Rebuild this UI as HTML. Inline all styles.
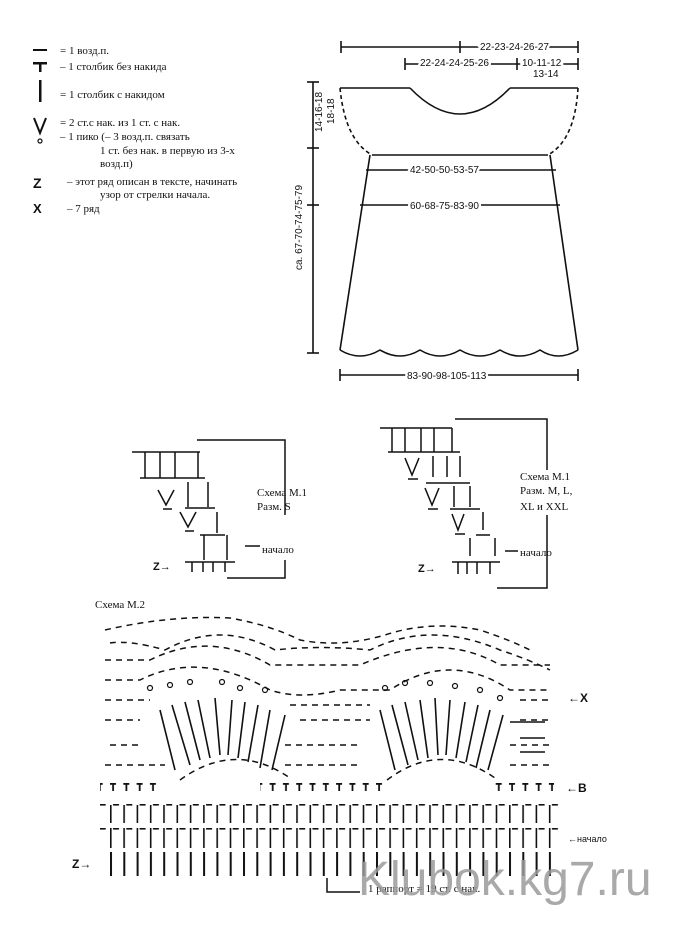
<!DOCTYPE html>
<html><head><meta charset="utf-8"><style>
html,body{margin:0;padding:0;background:#fff;}
svg{display:block;font-family:"Liberation Sans",sans-serif;}
.t{font-family:"Liberation Serif",serif;font-size:11px;fill:#111;}
.s{font-size:10px;fill:#111;font-family:"Liberation Sans",sans-serif;}
.w{paint-order:stroke;stroke:#fff;stroke-width:5px;}
</style></head><body>
<svg width="680" height="934" viewBox="0 0 680 934" xmlns="http://www.w3.org/2000/svg">
<defs>
<pattern id="bars" x="110" y="0" width="13.3" height="934" patternUnits="userSpaceOnUse">
<rect x="0" y="852" width="2" height="24" fill="#111"/>
</pattern>
<pattern id="bars2" x="110" y="0" width="13.3" height="934" patternUnits="userSpaceOnUse">
<rect x="0" y="828" width="1.6" height="20" fill="#111"/>
<rect x="3" y="828" width="6" height="1.6" fill="#111"/>
<rect x="0" y="805" width="1.6" height="18" fill="#111"/>
<rect x="3" y="804" width="6" height="1.6" fill="#111"/>
</pattern>
<pattern id="ts" x="110" y="0" width="13.3" height="934" patternUnits="userSpaceOnUse">
<rect x="0" y="783" width="6" height="1.8" fill="#111"/>
<rect x="2.2" y="783" width="1.8" height="8" fill="#111"/>
</pattern>
</defs>

<!-- Legend -->
<g fill="#111">
<rect x="33" y="49" width="14" height="2"/>
<rect x="33" y="62" width="14" height="2.5"/><rect x="39" y="62" width="2.5" height="10"/>
<rect x="39" y="80" width="2.5" height="22"/>
<circle cx="40" cy="141" r="2" fill="none" stroke="#111" stroke-width="1.2"/>
</g>
<path d="M34 118 L40 133 L46 118" stroke="#111" stroke-width="2" fill="none"/>
<text x="33" y="188" style="font:bold 14px 'Liberation Sans'" fill="#111">Z</text>
<text x="33" y="213" style="font:bold 13px 'Liberation Sans'" fill="#111">X</text>
<text class="t" x="60" y="54">= 1 возд.п.</text>
<text class="t" x="60" y="70">– 1 столбик без накида</text>
<text class="t" x="60" y="98">= 1 столбик с накидом</text>
<text class="t" x="60" y="126">= 2 ст.с нак. из 1 ст. с нак.</text>
<text class="t" x="60" y="140">– 1 пико (– 3 возд.п. связать</text>
<text class="t" x="100" y="154">1 ст. без нак. в первую из 3-х</text>
<text class="t" x="100" y="167">возд.п)</text>
<text class="t" x="67" y="185">– этот ряд описан в тексте, начинать</text>
<text class="t" x="100" y="198">узор от стрелки начала.</text>
<text class="t" x="67" y="212">– 7 ряд</text>

<!-- Dress schematic -->
<g stroke="#111" stroke-width="1.6" fill="none">
<line x1="341" y1="47" x2="578" y2="47"/>
<line x1="341" y1="41" x2="341" y2="53"/><line x1="460" y1="41" x2="460" y2="53"/><line x1="578" y1="41" x2="578" y2="53"/>
<line x1="405" y1="64" x2="578" y2="64"/>
<line x1="405" y1="58" x2="405" y2="70"/><line x1="517" y1="58" x2="517" y2="70"/><line x1="578" y1="58" x2="578" y2="70"/>
<line x1="313" y1="82" x2="313" y2="353"/>
<line x1="307" y1="82" x2="319" y2="82"/><line x1="307" y1="148" x2="319" y2="148"/><line x1="307" y1="205" x2="319" y2="205"/><line x1="307" y1="353" x2="319" y2="353"/>
<line x1="340" y1="375" x2="578" y2="375"/>
<line x1="340" y1="369" x2="340" y2="381"/><line x1="578" y1="369" x2="578" y2="381"/>
<path d="M340 88 H410 M510 88 H578"/>
<path d="M410 88 Q460 140 510 88" />
<path d="M340 88 Q345 140 372 155 M578 88 Q575 140 548 155" stroke-dasharray="4 3"/>
<path d="M372 155 H548"/>
<line x1="366" y1="170" x2="556" y2="170"/>
<line x1="360" y1="205" x2="560" y2="205"/>
<path d="M370 155 L340 350 M550 155 L578 350"/>
<path d="M340 350 q20 12 40 0 q20 12 40 0 q20 12 40 0 q20 12 40 0 q20 12 40 0 q18 12 38 0"/>
</g>
<text class="s w" x="480" y="50">22-23-24-26-27</text>
<text class="s w" x="420" y="66">22-24-24-25-26</text>
<text class="s w" x="522" y="66">10-11-12</text>
<text class="s" x="533" y="77">13-14</text>
<text class="s w" x="410" y="173">42-50-50-53-57</text>
<text class="s w" x="410" y="209">60-68-75-83-90</text>
<text class="s w" x="407" y="379">83-90-98-105-113</text>
<text class="s w" transform="translate(302,270) rotate(-90)">ca. 67-70-74-75-79</text>
<text class="s" transform="translate(322,132) rotate(-90)">14-16-18</text>
<text class="s" transform="translate(334,124) rotate(-90)">18-18</text>

<!-- M.1 left -->
<g stroke="#111" stroke-width="1.5" fill="none">
<path d="M197 440 H285 V515 M285 560 V578 H227 M285 590"/>
<path d="M132 452 H200 M145 452 V478 M160 452 V478 M175 452 V478 M198 452 V478 M140 478 H205"/>
<path d="M158 490 L166 505 L174 490 M163 509 H172 M188 482 V507 M208 482 V507 M185 508 H215"/>
<path d="M180 512 L188 527 L196 512 M185 531 H194 M217 512 V533 M200 535 H225"/>
<path d="M204 535 V560 M227 535 V560 M185 562 H235"/>
<path d="M192 562 V572 M203 562 V572 M213 562 V572 M225 562 V572"/>
<path d="M245 546 H260"/>
</g>
<text class="t" x="257" y="496">Схема М.1</text>
<text class="t" x="257" y="510">Разм. S</text>
<text class="t" x="262" y="553">начало</text>
<text x="153" y="570" style="font:bold 11px 'Liberation Sans'" fill="#111">Z→</text>

<!-- M.1 right -->
<g stroke="#111" stroke-width="1.5" fill="none">
<path d="M455 419 H547 V470 M547 515 V588 H497"/>
<path d="M380 428 H452 M392 428 V452 M405 428 V452 M421 428 V452 M434 428 V452 M452 428 V452 M388 452 H460"/>
<path d="M405 458 L412 475 L419 458 M408 479 H418 M433 456 V477 M447 456 V477 M460 456 V477 M426 483 H470"/>
<path d="M425 488 L432 505 L439 488 M428 509 H438 M454 486 V507 M470 486 V507 M450 509 H480"/>
<path d="M452 514 L458 530 L464 514 M455 534 H465 M483 512 V530 M476 535 H490"/>
<path d="M470 538 V556 M495 538 V556 M452 562 H500 M458 562 V574 M467 562 V574 M477 562 V574 M490 562 V574"/>
<path d="M505 551 H518"/>
</g>
<text class="t" x="520" y="480">Схема М.1</text>
<text class="t" x="520" y="494">Разм. M, L,</text>
<text class="t" x="520" y="510">XL и XXL</text>
<text class="t" x="520" y="556">начало</text>
<text x="418" y="572" style="font:bold 11px 'Liberation Sans'" fill="#111">Z→</text>

<!-- M.2 -->
<text class="t" x="95" y="608">Схема М.2</text>
<rect x="100" y="0" width="460" height="934" fill="url(#bars)"/>
<rect x="100" y="0" width="460" height="934" fill="url(#bars2)"/>
<rect x="100" y="0" width="57" height="934" fill="url(#ts)"/>
<rect x="260" y="0" width="127" height="934" fill="url(#ts)"/>
<rect x="494" y="0" width="60" height="934" fill="url(#ts)"/>
<g stroke="#111" stroke-width="1.5" fill="none" stroke-dasharray="6 5">
<path d="M180 780 Q235 740 290 778 M387 780 Q440 740 495 778"/>
<path d="M105 765 H165 M285 765 H360 M510 765 H550"/>
<path d="M110 745 H140 M285 745 H360 M510 745 H550"/>
<path d="M105 720 H140 M300 720 H370 M520 720 H550"/>
<path d="M105 700 H150 M290 705 H370 M520 700 H550"/>
<path d="M105 680 H140 Q200 650 270 690 Q300 700 340 690 H390 Q450 650 510 690 H550"/>
<path d="M105 660 H150 Q210 630 270 665 H360 Q440 630 500 665 H550"/>
<path d="M110 643 Q130 640 165 650 Q220 620 275 650 Q320 645 370 650 Q430 620 500 650 Q530 660 550 670"/>
<path d="M105 630 Q170 615 230 618 Q270 625 300 640 Q340 648 385 635 Q430 620 480 630 Q510 640 530 650"/>
</g>
<g stroke="#111" stroke-width="1.6">
<path d="M160 710 L175 770 M172 705 L190 765 M185 702 L200 760 M198 700 L210 758 M215 698 L220 755 M232 700 L228 755 M245 702 L238 758 M258 705 L248 762 M270 710 L260 768 M285 715 L272 770"/>
<path d="M380 710 L395 770 M392 705 L408 765 M405 702 L418 760 M420 700 L428 758 M435 698 L438 755 M450 700 L446 755 M465 702 L456 758 M478 705 L466 762 M490 710 L476 768 M503 715 L488 770"/>
<path d="M520 738 H545 M520 752 H545 M510 722 H545"/>
</g>
<g fill="none" stroke="#111" stroke-width="1.2">
<circle cx="150" cy="688" r="2.5"/><circle cx="170" cy="685" r="2.5"/><circle cx="190" cy="682" r="2.5"/><circle cx="222" cy="682" r="2.5"/><circle cx="240" cy="688" r="2.5"/><circle cx="265" cy="690" r="2.5"/>
<circle cx="385" cy="688" r="2.5"/><circle cx="405" cy="683" r="2.5"/><circle cx="430" cy="683" r="2.5"/><circle cx="455" cy="686" r="2.5"/><circle cx="480" cy="690" r="2.5"/><circle cx="500" cy="698" r="2.5"/>
</g>
<text x="568" y="702" style="font:bold 12px 'Liberation Sans'" fill="#111">←X</text>
<text x="566" y="792" style="font:bold 12px 'Liberation Sans'" fill="#111">←B</text>
<text x="568" y="842" class="s" style="font-size:9px">←начало</text>
<text x="72" y="868" style="font:bold 12px 'Liberation Sans'" fill="#111">Z→</text>
<path d="M327 878 V892 H360" stroke="#111" stroke-width="1.5" fill="none"/>
<text class="t" x="368" y="892">1 раппорт = 19 ст. с нак.</text>
<text x="358" y="895" style="font:48px 'Liberation Sans'" fill="#9a9a9a" fill-opacity="0.85">Klubok.kg7.ru</text>
</svg>
</body></html>
